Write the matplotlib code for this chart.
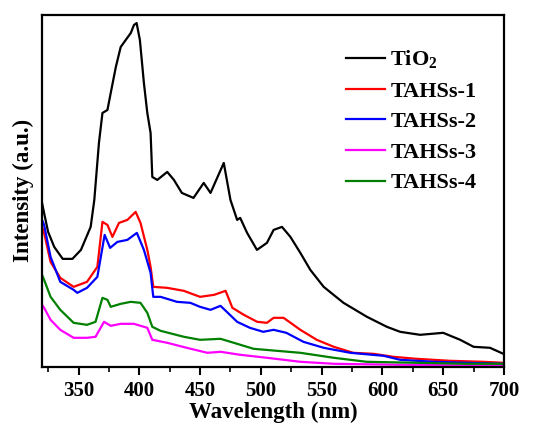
import matplotlib
matplotlib.use('Agg')
import matplotlib.pyplot as plt
from matplotlib.ticker import MultipleLocator

plt.rcParams['font.family'] = 'Liberation Serif'
plt.rcParams['font.weight'] = 'bold'
plt.rcParams['mathtext.fontset'] = 'custom'
plt.rcParams['mathtext.rm'] = 'Liberation Serif:bold'
plt.rcParams['mathtext.bf'] = 'Liberation Serif:bold'

# espectros (intensidade em u.a.)
wl_tio2 = [320, 322, 325, 330, 337, 345, 352, 360, 363, 366.8, 369.7, 373.8, 376.5, 380.7,
           384.7, 388.8, 393, 395.6, 397.8, 400.5, 403.8, 406.6, 409.3, 410.7, 414.8, 423,
           428.5, 435, 444.6, 453, 458.6, 469.5, 475, 480.5, 483, 488.7, 496.8, 505, 510.5,
           517.4, 524.3, 532.5, 540.7, 551.7, 568, 587.3, 603.7, 614.6, 631, 650, 664, 675,
           688.5, 699.5]
i_tio2 = [164, 152, 135, 120, 108, 108, 117, 140, 167, 224, 254, 257, 274, 300,
          320, 327, 334, 342, 344, 327, 284, 254, 234, 190, 187, 195,
          187, 174, 169, 184, 174, 204, 167, 147, 149, 134, 117, 124, 137,
          140, 130, 114, 97, 80, 64, 50, 40, 35, 32, 34, 27, 20,
          19, 13]

wl_t1 = [320, 321.7, 327, 335, 346, 357, 365.5, 369.7, 373.8, 377.9, 383.3, 390.2, 397, 401,
         406.6, 409.3, 411.5, 423, 436.7, 450, 461.5, 471, 476.6, 486, 497, 505, 510.5, 518.7,
         532.5, 546, 560, 576, 592.6, 609, 628, 655.6, 683, 699.5]
i_t1 = [140, 134, 105, 89, 80, 85, 100, 145, 142, 130, 144, 147, 155, 144,
        117, 100, 80, 79, 76, 70, 72, 76, 59, 52, 45, 44, 49, 49,
        37, 27, 20, 14, 13, 10, 8, 6, 5, 4]

wl_t2 = [320, 321.7, 327, 335, 346, 349, 357, 365.5, 371.5, 376, 382, 390.2, 398, 403.8,
         409.3, 411.5, 417.5, 431, 442, 450, 458.6, 466.8, 472, 480.5, 491, 502, 510.5, 521,
         535, 551.7, 573.6, 601, 614.6, 642, 669, 699.5]
i_t2 = [147, 142, 110, 85, 77, 74, 79, 90, 132, 119, 125, 127, 134, 117,
        94, 70, 70, 65, 64, 60, 57, 61, 55, 45, 39, 35, 37, 34,
        25, 19, 14, 11, 7, 5, 4, 3]

wl_t3 = [320, 321.7, 327, 335, 346, 357, 364, 371, 376.5, 384.7, 395.6, 406.6, 410.7, 423,
         439, 456, 467, 483, 505, 532.5, 560, 614.6, 699.5]
i_t3 = [62, 59, 47, 37, 29, 29, 30, 45, 41, 43, 43, 39, 27, 24,
        19, 14, 15, 12, 9, 5, 3, 2, 1]

wl_t4 = [320, 321.7, 327, 335, 346, 357, 364, 369.7, 373.8, 376.5, 384.7, 393, 401, 406.6,
         410.7, 417.5, 436.7, 450, 466.8, 477.8, 494, 513, 532.5, 560, 587, 628, 669, 699.5]
i_t4 = [92, 87, 70, 57, 44, 42, 45, 69, 67, 60, 63, 65, 64, 54,
        40, 36, 30, 27, 28, 24, 18, 16, 14, 9, 5, 4, 3, 3]

fig = plt.figure(figsize=(5.46, 4.30), dpi=100)
ax = fig.add_axes([0.077, 0.147, 0.846, 0.818])

ax.plot(wl_tio2, i_tio2, color='black', lw=1.6, label=r'TiO$_2$')
ax.plot(wl_t1, i_t1, color='red', lw=1.6, label='TAHSs-1')
ax.plot(wl_t2, i_t2, color='blue', lw=1.6, label='TAHSs-2')
ax.plot(wl_t3, i_t3, color='magenta', lw=1.6, label='TAHSs-3')
ax.plot(wl_t4, i_t4, color='green', lw=1.6, label='TAHSs-4')

ax.set_xlim(320, 700)
ax.set_ylim(0, 352)
ax.xaxis.set_major_locator(MultipleLocator(50))
ax.xaxis.set_minor_locator(MultipleLocator(25))
ax.set_yticks([])
ax.tick_params(axis='x', which='major', direction='out', length=6, width=1.5, labelsize=15,
               pad=4, top=False)
ax.tick_params(axis='x', which='minor', direction='out', length=3.5, width=1.2, top=False)
for s in ax.spines.values():
    s.set_linewidth(1.6)

ax.set_xlabel('Wavelength (nm)', fontsize=16.5, fontweight='bold', labelpad=1)
ax.set_ylabel('Intensity (a.u.)', fontsize=16.5, fontweight='bold', labelpad=6)

ax.legend(loc='upper right', frameon=False, fontsize=16, handlelength=1.75,
          handletextpad=0.25, labelspacing=0.45, borderaxespad=0,
          bbox_to_anchor=(0.96, 0.93))

plt.savefig('out.png', dpi=100)
